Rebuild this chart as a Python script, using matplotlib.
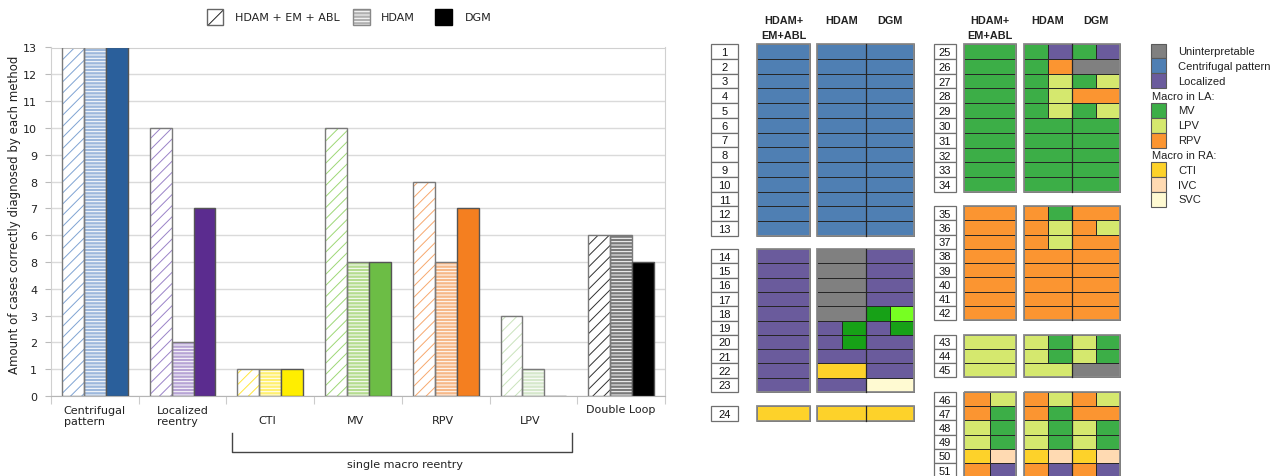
import matplotlib
matplotlib.use('Agg')
import matplotlib.pyplot as plt
from matplotlib.patches import Rectangle
import numpy as np

# ---------------- data: bar chart ----------------
categories = ['Centrifugal\npattern', 'Localized\nreentry', 'CTI', 'MV', 'RPV', 'LPV', 'Double Loop']
methods = ['HDAM + EM + ABL', 'HDAM', 'DGM']
hdam_em_abl = [13, 10, 1, 10, 8, 3, 6]
hdam = [13, 2, 1, 5, 5, 1, 6]
dgm = [13, 7, 1, 5, 7, 0, 5]
ytick_labels = ['0', '1', '2', '3', '4', '8', '6', '7', '8', '9', '10', '11', '12', '13']
ylabel = 'Amount of cases correctly diagnosed by each method'
bracket_label = 'single macro reentry'

dgm_colors = ['#2a5f9b', '#5b2c8f', '#ffee00', '#6cbd45', '#f47f20', '#c8e6b8', '#000000']
hdam_colors = ['#9db8dc', '#b7a4d5', '#fff070', '#b5dc90', '#f6b888', '#d6e8cc', '#7a7a7a']
hatch_colors = ['#7fa3d3', '#9a82c8', '#ffe63c', '#9dd775', '#f7a86e', '#c9e3bc', '#303030']

# ---------------- data: case grid ----------------
case_ids = list(range(1, 52))
col_hdam_em_abl = (['C'] * 13 + ['L'] * 10 + ['CTI'] + ['MV'] * 10 + ['RPV'] * 8 + ['LPV'] * 3 +
                   ['RPV/LPV', 'RPV/MV', 'LPV/MV', 'LPV/MV', 'CTI/IVC', 'RPV/L'])
col_hdam = (['C'] * 13 +
            ['U', 'U', 'U', 'U', 'U', 'L/DG', 'L/DG', 'L', 'CTI', 'L'] + ['CTI'] +
            ['MV/L', 'MV/RPV', 'MV/LPV', 'MV/LPV', 'MV/LPV', 'MV', 'MV', 'MV', 'MV', 'MV'] +
            ['RPV/MV', 'RPV/LPV', 'RPV/LPV', 'RPV', 'RPV', 'RPV', 'RPV', 'RPV'] +
            ['LPV/MV', 'LPV/MV', 'LPV'] +
            ['RPV/LPV', 'RPV/MV', 'LPV/MV', 'LPV/MV', 'CTI/IVC', 'RPV/L'])
col_dgm = (['C'] * 13 +
           ['L', 'L', 'L', 'L', 'DG/BG', 'L/DG', 'L', 'L', 'L', 'SVC'] + ['CTI'] +
           ['MV/L', 'U', 'MV/LPV', 'RPV', 'MV/LPV', 'MV', 'MV', 'MV', 'MV', 'MV'] +
           ['RPV', 'RPV/LPV', 'RPV', 'RPV', 'RPV', 'RPV', 'RPV', 'RPV'] +
           ['LPV/MV', 'LPV/MV', 'U'] +
           ['RPV/LPV', 'RPV', 'LPV/MV', 'LPV/MV', 'CTI/IVC', 'RPV/L'])
block_first = [1, 14, 24, 25, 35, 43, 46]
block_last = [13, 23, 24, 34, 42, 45, 51]
grid_headers = ['HDAM+\nEM+ABL', 'HDAM', 'DGM']

code_colors = {'U': '#808080', 'C': '#4f7fb3', 'L': '#6a5b9c', 'MV': '#3cae47',
               'LPV': '#d5e86e', 'RPV': '#fb9531', 'CTI': '#fdd22a', 'IVC': '#ffdab2',
               'SVC': '#fffad2', 'DG': '#17a117', 'BG': '#77ff22'}
legend_items = [('Uninterpretable', 'U'), ('Centrifugal pattern', 'C'), ('Localized', 'L'),
                ('Macro in LA:', None), ('MV', 'MV'), ('LPV', 'LPV'), ('RPV', 'RPV'),
                ('Macro in RA:', None), ('CTI', 'CTI'), ('IVC', 'IVC'), ('SVC', 'SVC')]

# ---------------- figure ----------------
W, H = 1280, 477
fig = plt.figure(figsize=(12.8, 4.77), dpi=100)
plt.rcParams['hatch.linewidth'] = 0.7

def px_axes(x0, y0, x1, y1):
    return [x0 / W, 1 - y1 / H, (x1 - x0) / W, (y1 - y0) / H]

ax = fig.add_axes(px_axes(51, 48.5, 665, 397))
x = np.arange(len(categories))
bw = 0.25
ax.bar(x - bw, hdam_em_abl, bw, color='white', edgecolor=hatch_colors, hatch='///', lw=0, zorder=2)
ax.bar(x - bw, hdam_em_abl, bw, fill=False, edgecolor='#7a7a7a', lw=1, zorder=3)
ax.bar(x, hdam, bw, color=hdam_colors, edgecolor='white', hatch='-----', lw=0, zorder=2)
ax.bar(x, hdam, bw, fill=False, edgecolor='#7a7a7a', lw=1, zorder=3)
ax.bar(x + bw, dgm, bw, color=dgm_colors, edgecolor='#555555', lw=1, zorder=3)

ax.set_xlim(-0.5, len(categories) - 0.5)
ax.set_ylim(0, 13)
ax.set_yticks(range(len(ytick_labels)))
ax.set_yticklabels(ytick_labels, fontsize=8, color='#222222', family='DejaVu Sans')
ax.set_xticks(np.arange(-0.5, len(categories), 1))
ax.set_xticklabels([])
ax.tick_params(axis='y', length=4, color='#bbbbbb', pad=6)
ax.tick_params(axis='x', length=6, color='#cccccc')
ax.yaxis.grid(True, color='#dadada', lw=1)
ax.set_axisbelow(True)
for s in ax.spines.values():
    s.set_color('#d0d0d0')
ax.spines['bottom'].set_color('#b5b5b5')

for i, c in enumerate(categories):
    if '\n' in c:
        ax.annotate(c, (i, 0), xytext=(0, -9), textcoords='offset pixels', ha='center', va='top',
                    multialignment='left', fontsize=8, color='#222222', linespacing=1.1)
    elif c == 'Double Loop':
        ax.annotate(c, (i, 0), xytext=(0, -13), textcoords='offset pixels', ha='center', va='center',
                    fontsize=8, color='#222222')
    else:
        ax.annotate(c, (i, 0), xytext=(-3, -24), textcoords='offset pixels', ha='center', va='center',
                    fontsize=8, color='#222222')

# ---------------- overlay in pixel coordinates ----------------
ov = fig.add_axes([0, 0, 1, 1])
ov.set_xlim(0, W)
ov.set_ylim(H, 0)
ov.axis('off')

ov.text(15, 215, ylabel, rotation=90, ha='center', va='center', fontsize=8.5, color='#222222')
ov.plot([232, 232, 572, 572], [434, 453, 453, 434], color='#444444', lw=1)
ov.text(405, 465, bracket_label, ha='center', va='center', fontsize=8, color='#222222')

# bar legend
lx = [207, 353, 435]
ltx = [235, 381, 465]
ov.add_patch(Rectangle((lx[0], 9.5), 16, 16.5, facecolor='white', edgecolor='#222222', hatch='//', lw=0))
ov.add_patch(Rectangle((lx[0], 9.5), 16, 16.5, fill=False, edgecolor='#666666', lw=1))
ov.add_patch(Rectangle((lx[1], 9.5), 17, 16.5, facecolor='#b0b0b0', edgecolor='white', hatch='-----', lw=0))
ov.add_patch(Rectangle((lx[1], 9.5), 17, 16.5, fill=False, edgecolor='#888888', lw=1))
ov.add_patch(Rectangle((lx[2], 9.5), 17, 16.5, facecolor='black', edgecolor='black', lw=1))
for xx, m in zip(ltx, methods):
    ov.text(xx, 18, m, ha='left', va='center', fontsize=8, color='#222222')

# case grid
GF = 'Liberation Sans'
panels = [dict(num=(711, 738), cols=[(757, 810), (817, 866), (866, 914)]),
          dict(num=(934, 956), cols=[(964, 1016), (1024, 1072), (1072, 1120)])]
block_panel = [0, 0, 0, 1, 1, 1, 1]
block_top = [45, 250, 407, 45, 207, 336, 393]
block_bot = [237, 393, 422, 193, 321, 378, 478.2]
columns = [col_hdam_em_abl, col_hdam, col_dgm]

for p in panels:
    (a0, a1), (b0, b1), (c0, c1) = p['cols']
    ov.text((a0 + a1) / 2, 21, grid_headers[0].split('\n')[0], ha='center', va='center',
            fontsize=7.8, fontweight='bold', family=GF, color='#222222')
    ov.text((a0 + a1) / 2, 36, grid_headers[0].split('\n')[1], ha='center', va='center',
            fontsize=7.8, fontweight='bold', family=GF, color='#222222')
    ov.text((b0 + b1) / 2, 21, grid_headers[1], ha='center', va='center',
            fontsize=7.8, fontweight='bold', family=GF, color='#222222')
    ov.text((c0 + c1) / 2, 21, grid_headers[2], ha='center', va='center',
            fontsize=7.8, fontweight='bold', family=GF, color='#222222')

for bi in range(len(block_first)):
    p = panels[block_panel[bi]]
    n = block_last[bi] - block_first[bi] + 1
    t, b = block_top[bi], block_bot[bi]
    rh = (b - t) / n
    for k in range(n):
        case = block_first[bi] + k
        idx = case_ids.index(case)
        y0 = t + k * rh
        nx0, nx1 = p['num']
        ov.add_patch(Rectangle((nx0, y0), nx1 - nx0, rh, facecolor='white', edgecolor='#6f6f6f', lw=0.9))
        ov.text((nx0 + nx1) / 2, y0 + rh / 2 + 0.5, str(case), ha='center', va='center',
                fontsize=8, family=GF, color='#111111')
        for ci, col in enumerate(columns):
            cx0, cx1 = p['cols'][ci]
            parts = col[idx].split('/')
            pw = (cx1 - cx0) / len(parts)
            for j, code in enumerate(parts):
                ov.add_patch(Rectangle((cx0 + j * pw, y0), pw, rh, facecolor=code_colors[code],
                                       edgecolor='#262626', lw=0.7))
    # outer borders
    (a0, a1), (b0, b1), (c0, c1) = p['cols']
    ov.add_patch(Rectangle((a0, t), a1 - a0, b - t, fill=False, edgecolor='#8a8a8a', lw=1.3))
    ov.add_patch(Rectangle((b0, t), c1 - b0, b - t, fill=False, edgecolor='#8a8a8a', lw=1.3))
    ov.plot([b1, b1], [t, b], color='#262626', lw=0.9)

# grid legend
for k, (lab, code) in enumerate(legend_items):
    yc = 52 + 14.85 * k
    if code is None:
        ov.text(1152, yc, lab, ha='left', va='center', fontsize=8, family=GF, color='#222222')
    else:
        ov.add_patch(Rectangle((1151, yc - 7.4), 15, 14.8, facecolor=code_colors[code],
                               edgecolor='#5a5a5a', lw=0.8))
        ov.text(1178, yc, lab, ha='left', va='center', fontsize=8, family=GF, color='#222222')

fig.savefig('out.png', dpi=100)
